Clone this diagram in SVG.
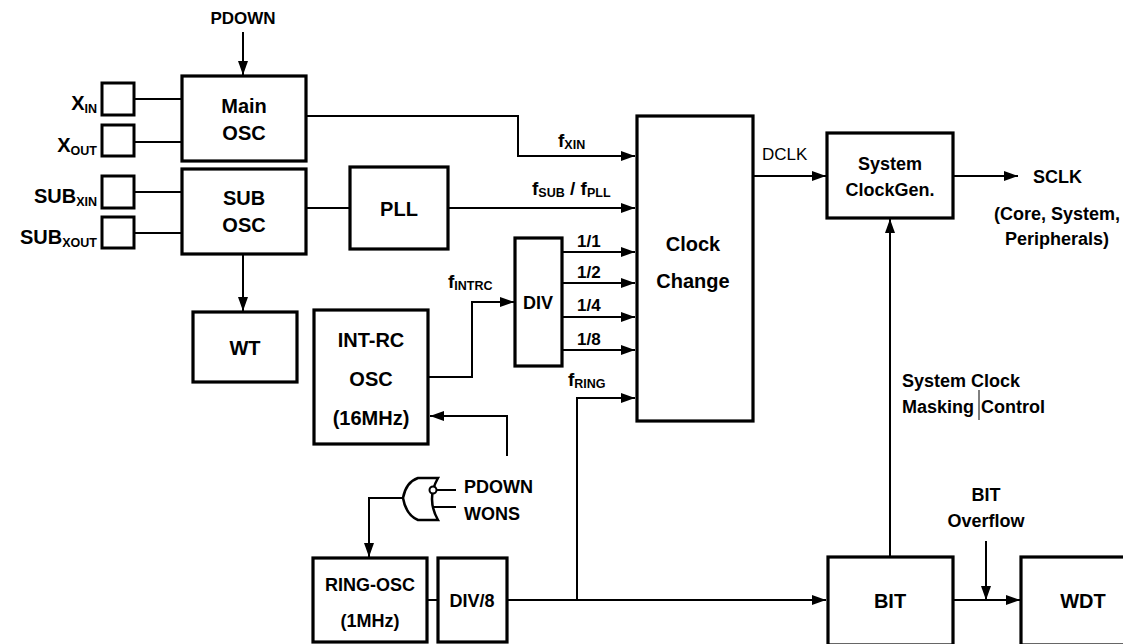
<svg xmlns="http://www.w3.org/2000/svg" width="1123" height="644" viewBox="0 0 1123 644">
<style>
.box{fill:#fff;stroke:#000;stroke-width:3.2}
.pin{fill:#fff;stroke:#000;stroke-width:3}
.ln{fill:none;stroke:#000;stroke-width:2}
.t{font-family:"Liberation Sans",Arial,sans-serif;font-weight:bold;fill:#000}
.big{font-size:20px}
.sm{font-size:17px}
.md{font-size:18px}
.f{font-size:19px}
.sub{font-size:11px}
.fs{font-size:12.5px}
.c{text-anchor:middle}
.n{font-weight:normal}
</style>
<defs>
<marker id="ah" viewBox="0 0 14 10" refX="14" refY="5" markerWidth="14" markerHeight="10" orient="auto" markerUnits="userSpaceOnUse"><path d="M0,0 L14,5 L0,10 Z" fill="#000"/></marker>
</defs>
<rect width="1123" height="644" fill="#fff"/>

<g id="connectors">
<path class="ln" d="M243 32 V75" marker-end="url(#ah)"/>
<path class="ln" d="M135 99 H182"/>
<path class="ln" d="M135 142 H182"/>
<path class="ln" d="M135 192 H182"/>
<path class="ln" d="M135 233 H182"/>
<path class="ln" d="M306 116 H518 V156 H635" marker-end="url(#ah)"/>
<path class="ln" d="M306 208 H350"/>
<path class="ln" d="M448 208 H635" marker-end="url(#ah)"/>
<path class="ln" d="M562 252 H635" marker-end="url(#ah)"/>
<path class="ln" d="M562 283 H635" marker-end="url(#ah)"/>
<path class="ln" d="M562 317 H635" marker-end="url(#ah)"/>
<path class="ln" d="M562 350 H635" marker-end="url(#ah)"/>
<path class="ln" d="M428 377 H472 V302 H514" marker-end="url(#ah)"/>
<path class="ln" d="M507 456 V416 H430" marker-end="url(#ah)"/>
<path class="ln" d="M577 600 V398 H635" marker-end="url(#ah)"/>
<path class="ln" d="M243 254 V311" marker-end="url(#ah)"/>
<path class="ln" d="M403 498 H369 V557" marker-end="url(#ah)"/>
<path class="ln" d="M436 490 H456"/>
<path class="ln" d="M433 507 H456"/>
<path class="ln" d="M427 600 H438"/>
<path class="ln" d="M507 600 H826" marker-end="url(#ah)"/>
<path class="ln" d="M890 557 V219" marker-end="url(#ah)"/>
<path class="ln" d="M753 176 H826" marker-end="url(#ah)"/>
<path class="ln" d="M953 176 H1018" marker-end="url(#ah)"/>
<path class="ln" d="M953 600 H1020" marker-end="url(#ah)"/>
<path class="ln" d="M986 541 V600" marker-end="url(#ah)"/>
<path d="M979 390 V420" stroke="#000" stroke-width="1" fill="none"/>
</g>

<g id="pdown-top"><text class="t sm c" x="243" y="24">PDOWN</text></g>

<g id="xin"><rect class="pin" x="102" y="83" width="32" height="32"/><text class="t" x="97" y="110" text-anchor="end"><tspan class="big">X</tspan><tspan class="fs" dy="3">IN</tspan></text></g>
<g id="xout"><rect class="pin" x="102" y="125" width="32" height="31"/><text class="t" x="97" y="152" text-anchor="end"><tspan class="big">X</tspan><tspan class="fs" dy="3">OUT</tspan></text></g>
<g id="subxin"><rect class="pin" x="102" y="176" width="32" height="32"/><text class="t" x="97" y="203" text-anchor="end"><tspan class="big">SUB</tspan><tspan class="fs" dy="3">XIN</tspan></text></g>
<g id="subxout"><rect class="pin" x="102" y="217" width="32" height="31"/><text class="t" x="97" y="244" text-anchor="end"><tspan class="big">SUB</tspan><tspan class="fs" dy="3">XOUT</tspan></text></g>

<g id="main-osc"><rect class="box" x="182" y="76" width="124" height="85"/><text class="t big c" x="244" y="113">Main</text><text class="t big c" x="244" y="140">OSC</text></g>
<g id="sub-osc"><rect class="box" x="182" y="169" width="124" height="85"/><text class="t big c" x="244" y="205">SUB</text><text class="t big c" x="244" y="232">OSC</text></g>
<g id="pll"><rect class="box" x="350" y="167" width="98" height="82"/><text class="t big c" x="399" y="216">PLL</text></g>
<g id="wt"><rect class="box" x="193" y="312" width="104" height="70"/><text class="t big c" x="245" y="355">WT</text></g>
<g id="int-rc"><rect class="box" x="314" y="310" width="114" height="134"/><text class="t big c" x="371" y="347">INT-RC</text><text class="t big c" x="371" y="386">OSC</text><text class="t big c" x="371" y="425">(16MHz)</text></g>
<g id="div"><rect class="box" x="515" y="238" width="47" height="128"/><text class="t md c" x="538" y="309">DIV</text></g>
<g id="clock-change"><rect class="box" x="637" y="116" width="116" height="305"/><text class="t big c" x="693" y="251">Clock</text><text class="t big c" x="693" y="288">Change</text></g>
<g id="sysclkgen"><rect class="box" x="827" y="133" width="126" height="85"/><text class="t md c" x="890" y="170">System</text><text class="t md c" x="890" y="196">ClockGen.</text></g>
<g id="ring-osc"><rect class="box" x="313" y="558" width="114" height="84"/><text class="t md c" x="370" y="591">RING-OSC</text><text class="t md c" x="370" y="627">(1MHz)</text></g>
<g id="div8"><rect class="box" x="438" y="558" width="69" height="84"/><text class="t md c" x="472" y="607">DIV/8</text></g>
<g id="bit"><rect class="box" x="828" y="557" width="125" height="88"/><text class="t big c" x="890" y="608">BIT</text></g>
<g id="wdt"><rect class="box" x="1021" y="557" width="110" height="88"/><text class="t big c" x="1083" y="608">WDT</text></g>

<g id="nor-gate">
<path d="M438 478 H418 Q406 482 403 498 Q406 515 418 520 H438 Q426 499 438 478 Z" fill="#fff" stroke="#000" stroke-width="2.5"/>
<circle cx="433" cy="490" r="3.5" fill="#fff" stroke="#000" stroke-width="2"/>
</g>

<g id="labels">
<text class="t" x="558" y="147"><tspan class="f">f</tspan><tspan class="fs" dy="2">XIN</tspan></text>
<text class="t" x="532" y="195"><tspan class="f">f</tspan><tspan class="fs" dy="2">SUB</tspan><tspan class="f" dy="-2"> / f</tspan><tspan class="fs" dy="2">PLL</tspan></text>
<text class="t" x="448" y="288"><tspan class="f">f</tspan><tspan class="fs" dy="2">INTRC</tspan></text>
<text class="t" x="568" y="386"><tspan class="f">f</tspan><tspan class="fs" dy="2">RING</tspan></text>
<text class="t sm" x="577" y="247">1/1</text>
<text class="t sm" x="577" y="278">1/2</text>
<text class="t sm" x="577" y="311">1/4</text>
<text class="t sm" x="577" y="345">1/8</text>
<text class="t sm n" x="762" y="160">DCLK</text>
<text class="t md" x="1033" y="183">SCLK</text>
<text class="t md c" x="1057" y="220">(Core, System,</text>
<text class="t md c" x="1057" y="245">Peripherals)</text>
<text class="t md" x="902" y="387">System Clock</text>
<text class="t md" x="902" y="413">Masking</text>
<text class="t md" x="981" y="413">Control</text>
<text class="t md c" x="986" y="501">BIT</text>
<text class="t md c" x="986" y="527">Overflow</text>
<text class="t md" x="464" y="493">PDOWN</text>
<text class="t md" x="464" y="520">WONS</text>
</g>
</svg>
